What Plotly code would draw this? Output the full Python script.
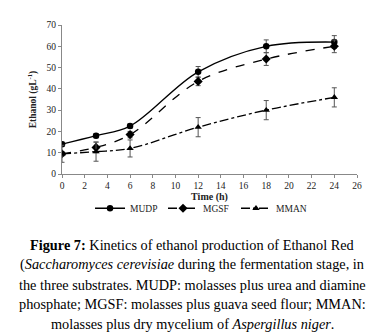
import plotly.graph_objects as go

time_h = [0, 3, 6, 12, 18, 24]
mudp = [14, 18, 22.5, 48, 60, 62]
mudp_err = [1, 1, 1, 2.5, 3, 3]
mgsf = [9.5, 12.5, 18.5, 43.5, 54, 60]
mgsf_err = [1, 2.5, 1.5, 2, 3, 3]
mman = [9.5, 10.5, 12, 22, 30, 36]
mman_err = [4, 4.5, 4, 4.5, 4.5, 4.5]

x_ticks = list(range(0, 27, 2))
y_ticks = list(range(0, 71, 10))

caption_lines = [
    "<b>Figure 7:</b> Kinetics of ethanol production of Ethanol Red",
    "(<i>Saccharomyces cerevisiae</i> during the fermentation stage, in",
    "the three substrates. MUDP: molasses plus urea and diamine",
    "phosphate; MGSF: molasses plus guava seed flour; MMAN:",
    "molasses plus dry mycelium of <i>Aspergillus niger</i>.",
]
caption_y_px = [238, 258.5, 279, 299, 319]

W, H = 376, 333
L, R, T, B = 54, 27, 14, 167
PW, PH = W - L - R, H - T - B

fig = go.Figure()

def add(name, y, err, dash, symbol, size):
    fig.add_trace(go.Scatter(
        x=time_h, y=y, name=name, mode="lines+markers",
        line=dict(color="black", width=1.3, dash=dash, shape="spline", smoothing=1),
        marker=dict(symbol=symbol, size=size, color="black"),
        error_y=dict(type="data", array=err, visible=True, color="#555555", thickness=1, width=2.5),
    ))

add("MUDP", mudp, mudp_err, "solid", "circle", 6.5)
add("MGSF", mgsf, mgsf_err, "dash", "diamond", 7)
add("MMAN", mman, mman_err, "dashdot", "triangle-up", 6.5)

serif = "Liberation Serif, Times New Roman, serif"

annotations = []
for txt, ypx in zip(caption_lines, caption_y_px):
    annotations.append(dict(
        xref="paper", yref="paper",
        x=(184 - L) / PW, y=(H - B - ypx) / PH,
        xanchor="center", yanchor="middle", showarrow=False, align="center",
        font=dict(family=serif, size=14.3, color="black"), text=txt,
    ))

fig.update_layout(
    width=W, height=H, autosize=False,
    margin=dict(l=L, r=R, t=T, b=B),
    paper_bgcolor="white", plot_bgcolor="white",
    font=dict(family=serif, size=9.5, color="#222"),
    showlegend=True,
    legend=dict(orientation="h", x=0.095, xanchor="left", y=-0.23, yanchor="middle",
                entrywidth=28, font=dict(size=9.5, family=serif), itemwidth=30,
                bgcolor="rgba(0,0,0,0)"),
    xaxis=dict(range=[0, 26], tickvals=x_ticks, showgrid=False, zeroline=False,
               showline=True, linecolor="#888888", linewidth=1, ticks="outside",
               ticklen=3, tickcolor="#888888",
               title=dict(text="<b>Time (h)</b>", font=dict(size=10, family=serif), standoff=0)),
    yaxis=dict(range=[0, 70], tickvals=y_ticks, showgrid=False, zeroline=False,
               showline=True, linecolor="#888888", linewidth=1, ticks="outside",
               ticklen=3, tickcolor="#888888",
               title=dict(text="<b>Ethanol (gL<sup>-1</sup>)</b>", font=dict(size=9.5, family=serif), standoff=8)),
    annotations=annotations,
)

fig.write_html("out.html")
